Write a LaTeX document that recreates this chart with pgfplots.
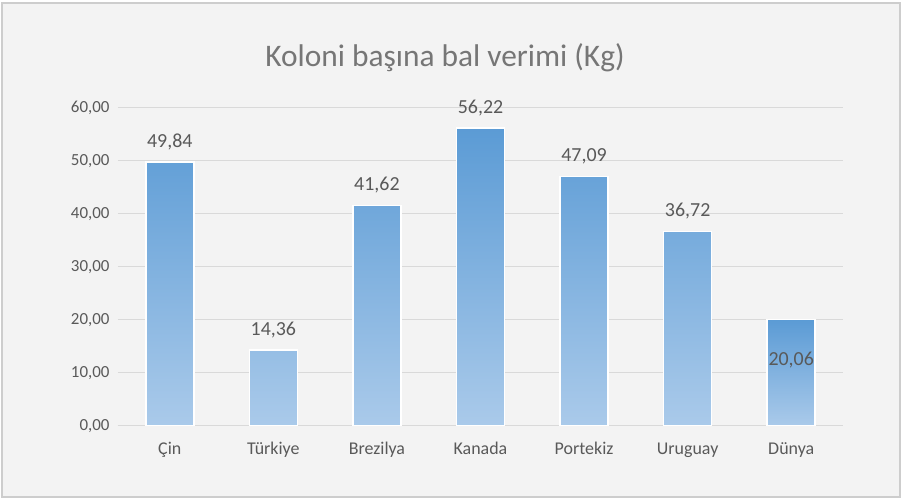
\documentclass[border=0pt]{standalone}
\usepackage{pgfplots}
\pgfplotsset{compat=1.18}
\usepackage{fontspec}
\setmainfont{Carlito}
\definecolor{barTop}{RGB}{91,155,213}
\definecolor{barBot}{RGB}{170,202,234}
\definecolor{txt}{RGB}{89,89,89}
\definecolor{ttl}{RGB}{118,118,118}
\definecolor{gridc}{RGB}{217,217,217}
\definecolor{bgc}{RGB}{243,243,243}
\definecolor{bord}{RGB}{205,205,205}
\begin{document}
\begin{tikzpicture}[x=1bp,y=1bp]
\path[use as bounding box] (-118,-73) rectangle (785,426);
\fill[bgc,draw=bord,line width=2bp] (-116,-71) rectangle (782,423);
\node[ttl,font=\fontsize{31.5}{36}\selectfont] at (327,368) {Koloni başına bal verimi (Kg)};
\begin{axis}[
  at={(0,0)}, anchor=south west,
  scale only axis, width=725bp, height=318bp,
  xmin=-0.5, xmax=6.5, ymin=0, ymax=60,
  ytick={0,10,...,60},
  xtick={0,...,6},
  xticklabels={Çin,Türkiye,Brezilya,Kanada,Portekiz,Uruguay,Dünya},
  axis y line*=left, axis x line*=bottom,
  y axis line style={draw=none},
  x axis line style={gridc, line width=1bp},
  major tick length=0pt,
  ymajorgrids, grid style={gridc, line width=1bp},
  tick label style={txt, font=\fontsize{17}{20}\selectfont},
  xticklabel style={yshift=-13bp, font=\fontsize{18}{20}\selectfont},
  yticklabel style={xshift=-5bp},
  /pgf/number format/.cd, fixed, fixed zerofill, precision=2, use comma, assume math mode=true,
]
\addplot[ybar, bar width=48bp, draw=white, line width=1.5bp,
  top color=barTop, bottom color=barBot,
  nodes near coords, nodes near coords style={txt, font=\fontsize{20}{22}\selectfont, yshift=8bp}]
  coordinates {(0,49.84) (1,14.36) (2,41.62) (3,56.22) (4,47.09) (5,36.72)};
\addplot[ybar, bar width=48bp, draw=white, line width=1.5bp,
  top color=barTop, bottom color=barBot]
  coordinates {(6,20.06)};
\addplot[draw=none, mark=none, point meta=explicit,
  nodes near coords, nodes near coords align=center,
  nodes near coords style={txt, font=\fontsize{20}{22}\selectfont}]
  coordinates {(6,12.4) [20.06]};
\end{axis}
\end{tikzpicture}
\end{document}
